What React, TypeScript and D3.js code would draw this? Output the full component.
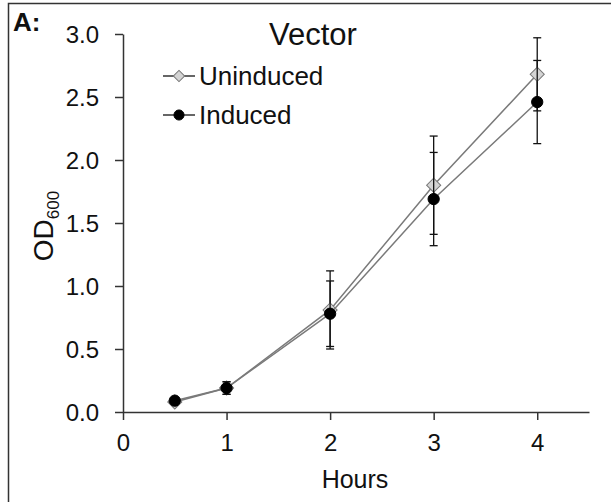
import React, { useEffect, useRef } from 'react';
import * as d3 from 'd3';

const hours = [0.5, 1, 2, 3, 4];
const uninduced = [0.08, 0.19, 0.81, 1.8, 2.68];
const uninducedErr = [0.01, 0.05, 0.31, 0.39, 0.29];
const induced = [0.09, 0.19, 0.78, 1.69, 2.46];
const inducedErr = [0.01, 0.05, 0.26, 0.37, 0.33];
const xTicks = [0, 1, 2, 3, 4];
const yTicks = [0, 0.5, 1, 1.5, 2, 2.5, 3];

const W = 611;
const H = 502;
const FONT = 'Liberation Sans, Arial, sans-serif';

const symbolFor = (kind: string, big: boolean) =>
  kind === 'diamond'
    ? d3.symbol().type(d3.symbolSquare).size(big ? 100 : 64)
    : d3.symbol().type(d3.symbolCircle).size(big ? 100 : 80);

const App = () => {
  const svgRef = useRef<SVGSVGElement>(null);

  useEffect(() => {
    const svg = d3.select(svgRef.current);
    svg.selectAll('*').remove();

    const x = d3.scaleLinear().domain([0, 4.5]).range([123, 589]);
    const y = d3.scaleLinear().domain([0, 3]).range([412, 34]);

    // outer frame (cropped on right/bottom)
    svg.append('rect')
      .attr('x', 8.5).attr('y', 3.5)
      .attr('width', 700).attr('height', 600)
      .attr('fill', 'none').attr('stroke', '#333').attr('stroke-width', 1.5);

    // axes
    const gx = svg.append('g')
      .attr('transform', `translate(0,${y(0)})`)
      .call(d3.axisBottom(x).tickValues(xTicks).tickFormat(d3.format('d')).tickSize(8).tickPadding(14).tickSizeOuter(0));
    const gy = svg.append('g')
      .attr('transform', `translate(${x(0)},0)`)
      .call(d3.axisLeft(y).tickValues(yTicks).tickFormat(d3.format('.1f')).tickSize(8).tickPadding(16).tickSizeOuter(0));
    [gx, gy].forEach(g => {
      g.selectAll('path, line').attr('stroke', '#333').attr('stroke-width', 1.5);
      g.selectAll('text')
        .style('font-family', FONT)
        .style('font-size', '24px')
        .attr('fill', '#111');
    });
    gy.selectAll('text').attr('dy', '0.36em');

    const drawSeries = (vals: number[], errs: number[], kind: 'diamond' | 'circle') => {
      const pts = hours.map((h, i) => ({ h, v: vals[i], e: errs[i] }));
      // error bars
      const eb = svg.append('g').attr('stroke', '#111').attr('stroke-width', 1.3);
      pts.forEach(p => {
        eb.append('line')
          .attr('x1', x(p.h)).attr('x2', x(p.h))
          .attr('y1', y(p.v + p.e)).attr('y2', y(p.v - p.e));
        [p.v + p.e, p.v - p.e].forEach(val => {
          eb.append('line')
            .attr('x1', x(p.h) - 4).attr('x2', x(p.h) + 4)
            .attr('y1', y(val)).attr('y2', y(val));
        });
      });
      svg.append('path')
        .datum(pts)
        .attr('fill', 'none')
        .attr('stroke', '#7a7a7a')
        .attr('stroke-width', 1.5)
        .attr('d', d3.line<any>().x(d => x(d.h)).y(d => y(d.v)));
      svg.append('g').selectAll('path')
        .data(pts)
        .join('path')
        .attr('d', symbolFor(kind, true) as any)
        .attr('transform', d => `translate(${x(d.h)},${y(d.v)})${kind === 'diamond' ? ' rotate(45)' : ''}`)
        .attr('fill', kind === 'diamond' ? '#d4d4d4' : '#000')
        .attr('stroke', kind === 'diamond' ? '#777' : '#000')
        .attr('stroke-width', 1);
    };

    drawSeries(uninduced, uninducedErr, 'diamond');
    drawSeries(induced, inducedErr, 'circle');

    // legend
    const legend = [
      { label: 'Uninduced', kind: 'diamond', y: 76 },
      { label: 'Induced', kind: 'circle', y: 115 },
    ];
    legend.forEach(l => {
      svg.append('line')
        .attr('x1', 163).attr('x2', 195).attr('y1', l.y).attr('y2', l.y)
        .attr('stroke', '#333').attr('stroke-width', 1.5);
      svg.append('path')
        .attr('d', symbolFor(l.kind, false)() as string)
        .attr('transform', `translate(179,${l.y})${l.kind === 'diamond' ? ' rotate(45)' : ''}`)
        .attr('fill', l.kind === 'diamond' ? '#d4d4d4' : '#000')
        .attr('stroke', l.kind === 'diamond' ? '#777' : '#000');
      svg.append('text')
        .attr('x', 199).attr('y', l.y + 9)
        .style('font-family', FONT).style('font-size', '26px')
        .attr('fill', '#111')
        .text(l.label);
    });

    // title and panel label
    svg.append('text')
      .attr('x', 313).attr('y', 45)
      .attr('text-anchor', 'middle')
      .style('font-family', FONT).style('font-size', '31px')
      .attr('fill', '#111')
      .text('Vector');
    svg.append('text')
      .attr('x', 13).attr('y', 31)
      .style('font-family', FONT).style('font-size', '26px').style('font-weight', 'bold')
      .attr('fill', '#111')
      .text('A:');

    // axis titles
    svg.append('text')
      .attr('x', 355).attr('y', 488)
      .attr('text-anchor', 'middle')
      .style('font-family', FONT).style('font-size', '25px')
      .attr('fill', '#111')
      .text('Hours');
    const yl = svg.append('text')
      .attr('transform', 'translate(53,226) rotate(-90)')
      .attr('text-anchor', 'middle')
      .style('font-family', FONT).style('font-size', '28px')
      .attr('fill', '#111');
    yl.append('tspan').text('OD');
    yl.append('tspan').attr('dy', 6).style('font-size', '17px').text('600');
  }, []);

  return (
    <svg ref={svgRef} width={W} height={H} style={{ display: 'block', position: 'absolute', left: 0, top: 0, background: '#fff' }} />
  );
};

export default App;
